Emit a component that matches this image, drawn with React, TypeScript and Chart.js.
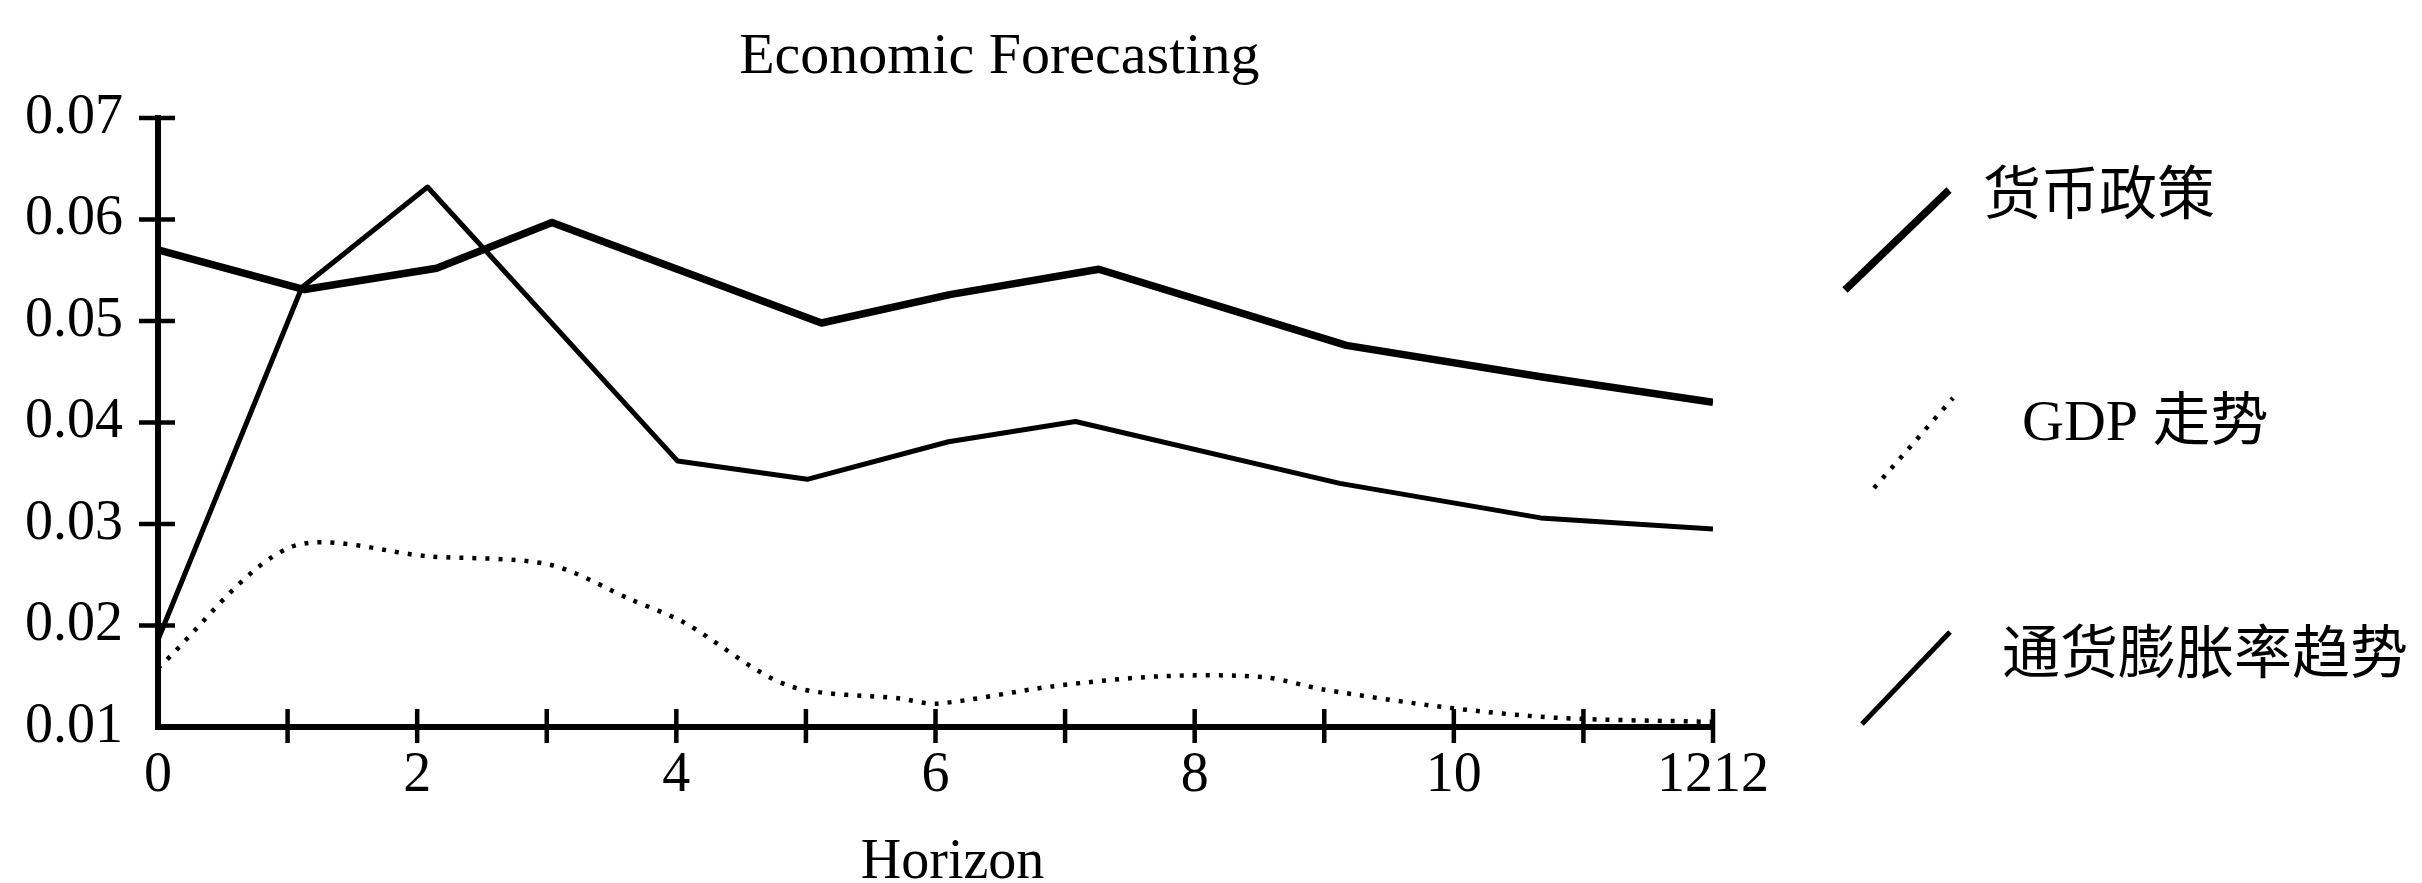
import React, { useEffect, useRef } from 'react';
import { Chart, registerables } from 'chart.js';

Chart.register(...registerables);

// ---------- data ----------
const chartTitle = 'Economic Forecasting';
const xAxisTitle = 'Horizon';
const seriesNames = ['货币政策', 'GDP 走势', '通货膨胀率趋势'];

const monetaryX = [0, 1.13, 2.15, 3.04, 5.12, 6.11, 7.26, 8.23, 9.17, 10.67, 12];
const monetaryY = [0.057, 0.0531, 0.0552, 0.0597, 0.0498, 0.0526, 0.0551, 0.0513, 0.0476, 0.0445, 0.042];

const gdpX = [0, 1.02, 2.1, 3.02, 3.66, 4.06, 4.86, 5.73, 6.01, 6.9, 7.74, 8.54, 8.99, 9.96, 10.8, 12];
const gdpY = [0.0158, 0.0277, 0.0268, 0.026, 0.0225, 0.0203, 0.0141, 0.0128, 0.0123, 0.014, 0.015, 0.0149, 0.0137, 0.0119, 0.0109, 0.0105];

const inflationX = [0, 1.11, 2.08, 4.01, 5.01, 6.1, 7.08, 9.12, 10.67, 12];
const inflationY = [0.0186, 0.0533, 0.0632, 0.0362, 0.0344, 0.0381, 0.0401, 0.034, 0.0306, 0.0295];

const xTickValues = [0, 1, 2, 3, 4, 5, 6, 7, 8, 9, 10, 11, 12];
const xTickLabels = ['0', '', '2', '', '4', '', '6', '', '8', '', '10', '', '1212'];
const yTickValues = [0.01, 0.02, 0.03, 0.04, 0.05, 0.06, 0.07];
const yTickLabels = ['0.01', '0.02', '0.03', '0.04', '0.05', '0.06', '0.07'];

// ---------- styles ----------
const SERIF = '"Liberation Serif", "Times New Roman", serif';
const CJK = '"Liberation Serif", "Noto Sans CJK SC", sans-serif';
const THICK = 7.5;
const THIN = 5;
const DOT = 4.5;
const DOT_DASH = [4, 9];
const AXIS = 6;

const toPoints = (xs: number[], ys: number[]) => xs.map((x, i) => ({ x, y: ys[i] }));

const decorPlugin = {
  id: 'decor',
  afterDraw(chart: any) {
    const ctx = chart.ctx as CanvasRenderingContext2D;
    const xs = chart.scales.x;
    const ys = chart.scales.y;
    const area = chart.chartArea;
    ctx.save();
    ctx.strokeStyle = '#000';
    ctx.fillStyle = '#000';
    ctx.lineCap = 'butt';
    // crossing ticks on x axis
    ctx.lineWidth = 4.5;
    xTickValues.forEach((v) => {
      if (v === 0) return;
      const px = xs.getPixelForValue(v);
      ctx.beginPath();
      ctx.moveTo(px, area.bottom - 18);
      ctx.lineTo(px, area.bottom + 16);
      ctx.stroke();
    });
    // crossing ticks on y axis
    yTickValues.forEach((v, i) => {
      if (i === 0) return;
      const py = ys.getPixelForValue(v);
      ctx.beginPath();
      ctx.moveTo(area.left - 19, py);
      ctx.lineTo(area.left + 17, py);
      ctx.stroke();
    });

    // title
    ctx.font = `normal 58px ${SERIF}`;
    ctx.textAlign = 'center';
    ctx.textBaseline = 'alphabetic';
    ctx.fillText(chartTitle, area.left + area.width * 0.541, 73);

    // x axis title
    ctx.font = `normal 56px ${SERIF}`;
    ctx.fillText(xAxisTitle, area.left + area.width * 0.511, 878);

    // legend
    const legend = [
      { x1: 1845, y1: 290, x2: 1949, y2: 190, w: THICK, dash: [] as number[], tx: 1983, ty: 199 },
      { x1: 1874, y1: 488, x2: 1953, y2: 398, w: DOT, dash: DOT_DASH, tx: 2022, ty: 425 },
      { x1: 1862, y1: 724, x2: 1950, y2: 632, w: THIN, dash: [] as number[], tx: 2002, ty: 658 },
    ];
    legend.forEach((item, i) => {
      ctx.beginPath();
      ctx.setLineDash(item.dash);
      ctx.lineWidth = item.w;
      ctx.moveTo(item.x1, item.y1);
      ctx.lineTo(item.x2, item.y2);
      ctx.stroke();
      ctx.setLineDash([]);
      ctx.font = `normal 58px ${CJK}`;
      ctx.textAlign = 'left';
      ctx.textBaseline = 'middle';
      ctx.fillText(seriesNames[i], item.tx, item.ty);
    });
    ctx.restore();
  },
};

export default function App() {
  const canvasRef = useRef<HTMLCanvasElement | null>(null);

  useEffect(() => {
    document.body.style.margin = '0';
    const canvas = canvasRef.current;
    if (!canvas) return;
    const chart = new Chart(canvas, {
      type: 'line',
      data: {
        datasets: [
          {
            label: seriesNames[0],
            data: toPoints(monetaryX, monetaryY),
            borderColor: '#000',
            borderWidth: THICK,
            pointRadius: 0,
            tension: 0,
            borderJoinStyle: 'round',
            fill: false,
          },
          {
            label: seriesNames[1],
            data: toPoints(gdpX, gdpY),
            borderColor: '#000',
            borderWidth: DOT,
            borderDash: DOT_DASH,
            pointRadius: 0,
            tension: 0.3,
            fill: false,
          },
          {
            label: seriesNames[2],
            data: toPoints(inflationX, inflationY),
            borderColor: '#000',
            borderWidth: THIN,
            pointRadius: 0,
            tension: 0,
            borderJoinStyle: 'round',
            fill: false,
          },
        ],
      },
      options: {
        responsive: false,
        animation: false,
        devicePixelRatio: 1,
        layout: { padding: { left: 0, top: 118, right: 709, bottom: 0 } },
        plugins: {
          legend: { display: false },
          title: { display: false },
          tooltip: { enabled: false },
        },
        scales: {
          x: {
            type: 'linear',
            min: 0,
            max: 12,
            afterFit: (s: any) => { s.height = 156; },
            afterBuildTicks: (s: any) => { s.ticks = xTickValues.map((v) => ({ value: v })); },
            grid: { display: false, drawTicks: false },
            border: { display: true, color: '#000', width: AXIS },
            ticks: {
              autoSkip: false,
              maxRotation: 0,
              padding: 16,
              color: '#000',
              font: { family: SERIF, size: 56 },
              callback: (v: any) => xTickLabels[xTickValues.indexOf(Number(v))] ?? '',
            },
          },
          y: {
            type: 'linear',
            min: 0.01,
            max: 0.07,
            afterFit: (s: any) => { s.width = 158; },
            afterBuildTicks: (s: any) => { s.ticks = yTickValues.map((v) => ({ value: v })); },
            grid: { display: false, drawTicks: false },
            border: { display: true, color: '#000', width: AXIS },
            ticks: {
              padding: 35,
              color: '#000',
              font: { family: SERIF, size: 56 },
              callback: (v: any, i: number) => yTickLabels[i] ?? '',
            },
          },
        },
      },
      plugins: [decorPlugin],
    });
    return () => chart.destroy();
  }, []);

  return (
    <div style={{ width: 2422, height: 883, background: '#fff' }}>
      <canvas ref={canvasRef} width={2422} height={883} />
    </div>
  );
}
